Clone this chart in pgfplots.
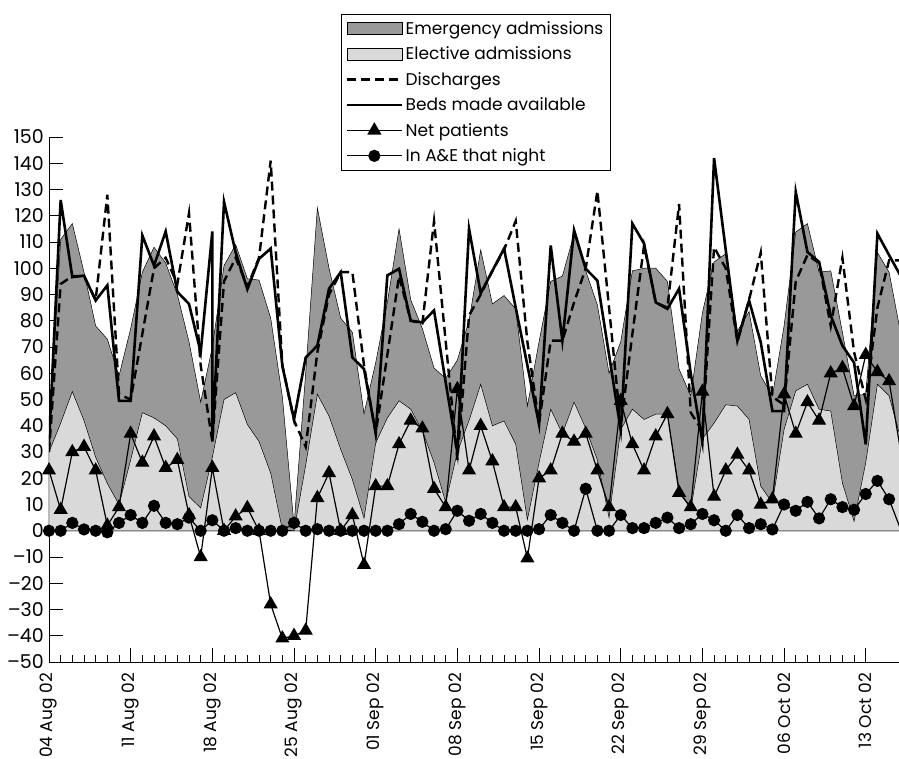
\documentclass[border=0pt]{standalone}
\usepackage{fontspec}
\setmainfont{Poppins}
\usepackage{pgfplots}
\usepackage{pgfplotstable}
\pgfplotsset{compat=1.18}

% day 0 = 04 Aug 02; tot = elective + emergency
\pgfplotstableread{
d elec tot dis net ae
0 30 35 30 23 0
1 41 111 94 8 0
2 53 117 97 30 3
3 42 98.5 97 32 0.5
4 28 78 88 23 0
5 18 73 128 2 -0.6
6 10 59 52 9 3
7 27 77 50 37 6
8 45 98.5 75 26 3
9 43 108 100 36 9.5
10 40 102 104 24 3
11 35 90 94 27 2.5
12 13 72 121 6 5
13 8.7 49 63 -10 0
14 28 70 34 24 4
15 50 101 95 0 0
16 52.6 109 104 5.5 1
17 40.5 96 93 8.7 0
18 34 95.5 104 0 0
19 22 81 141 -28 0
20 0.4 51 63 -41 0
21 0 2 42 -40 3
22 25 60 32 -38 0
23 52 123 68 12.5 0.6
24 43.7 100 90 22 0
25 31 81 98.5 0 0
26 19.5 75.6 98.5 6 0
27 4.8 44.6 63 -13 0
28 33.5 64 37 17 0
29 43 87 67 17 0
30 49.5 115 97 33 2.5
31 46.3 88 80 42 6.4
32 38 77 79 39 3.4
33 26 62 118 16 0
34 10.8 58 72 9 0.6
35 30 65 27 54 7.6
36 42 80 82 23 3.8
37 55.8 107 90 40 6.4
38 40 86.4 99 26.5 3
39 41.8 89.6 107 9 0
40 33 84.5 118 9 0
41 4.2 47.5 72 -10.5 0
42 26 72 41 20 0.6
43 46.3 95 72.4 23 6
44 37 97 72.4 37 3
45 49 113 87 34 0
46 39 99 100 37 16
47 27 86 129.5 23 0
48 5 60 85 9 0
49 38.6 72 40 49.5 6
50 46.3 99 75 33 1
51 42.4 100 108.7 23 1
52 44.4 100 87 36 3
53 44.4 95 85 44.5 5
54 16 61.6 124.5 14.5 1
55 8 51.4 45 9 2.5
56 35 83 38 53 6.4
57 41 102.4 108 13 4
58 48 105.5 100 23 0
59 47.5 76 72 29 6
60 42.4 83.5 88 23 1
61 17 59 106 10 2.5
62 10.6 51.4 51 12 0.5
63 38.6 78 48 52 10
64 53.3 113.8 95 37 7.6
65 55.8 117 105 49 11
66 46.3 98.5 102 42 4.7
67 45.6 99 78 60 12
68 18.2 75.6 104 62 9
69 3.6 51.4 68 47.5 8
70 26 52 50 67 14
71 55.8 106 85 60.5 19
72 51.4 98.5 103 57 12
73 35 75 103 30 0.4
}\daily

% beds made available (day 14 has two values)
\pgfplotstableread{
d beds
0 33.5
1 126
2 96.6
3 97.2
4 87.7
5 93.5
6 49.5
7 49.5
8 112.5
9 101
10 114
11 91
12 86.4
13 68
14 114
14 34
15 125.3
16 106
17 92
18 103.6
19 107.5
20 62.8
21 42.4
22 66
23 70.5
24 92.2
25 98.5
26 66
27 61.6
28 37.3
29 97.3
30 99.8
31 80
32 79.4
33 83.9
34 56.5
35 29.7
36 115
37 90.5
38 99
39 107.5
40 85
41 63
42 40.5
43 108.7
44 72.4
45 114.5
46 99.8
47 95.3
48 67
49 38.3
50 117
51 109.4
52 87
53 84.5
54 92.2
55 60
56 34
57 142
58 107
59 72.4
60 87.7
61 71.8
62 45.6
63 45.6
64 129.1
65 106.2
66 102.4
67 82
68 70.5
69 64
70 32.9
71 113.2
72 105
73 97
}\beds

\newcommand\lbl{\fontsize{17pt}{20pt}\selectfont}
\newcommand\ylbl{\fontsize{19pt}{22pt}\selectfont}
\definecolor{emerg}{gray}{0.6}
\definecolor{elect}{gray}{0.85}

\pgfplotsset{
    arealeg/.style={legend image code/.code={\draw[##1] (0pt,-6pt) rectangle (55pt,6pt);}},
    lineleg/.style={legend image code/.code={\draw[##1] (0pt,0pt) -- (55pt,0pt);}},
    markleg/.style={legend image code/.code={\draw[mark repeat=2,mark phase=2,##1] plot coordinates {(0pt,0pt) (27pt,0pt) (55pt,0pt)};}},
}

\begin{document}
\begin{tikzpicture}
\begin{axis}[
    name=ax,
    scale only axis,
    width=850pt, height=525pt,
    xmin=0, xmax=72.85,
    ymin=-50, ymax=150,
    axis lines*=left,
    axis line style={line width=0.9pt},
    tick align=inside,
    tick style={black, line width=0.9pt},
    major tick length=14pt,
    minor tick length=7pt,
    xtick={0,7,...,70},
    minor x tick num=6,
    xticklabels={04 Aug 02,11 Aug 02,18 Aug 02,25 Aug 02,01 Sep 02,08 Sep 02,15 Sep 02,22 Sep 02,29 Sep 02,06 Oct 02,13 Oct 02},
    xticklabel style={rotate=90, anchor=east, inner sep=0pt, font=\lbl},
    xticklabel shift=11pt,
    ytick={-50,-40,...,150},
    yticklabels={–50,–40,–30,–20,–10,0,10,20,30,40,50,60,70,80,90,100,110,120,130,140,150},
    yticklabel style={anchor=east, inner sep=0pt, font=\ylbl},
    yticklabel shift=5pt,
    clip mode=individual,
    legend style={at={(0.502,1.234)}, anchor=north, draw=black, line width=0.6pt,
        font=\lbl, inner xsep=5pt, inner ysep=5pt, row sep=7pt,
        cells={anchor=west}},
    legend cell align=left,
]
\addplot[fill=emerg, draw=black, line width=0.5pt, arealeg]
    table[x=d, y=tot] {\daily} \closedcycle;
\addlegendentry{Emergency admissions}
\addplot[fill=elect, draw=black, line width=0.5pt, arealeg]
    table[x=d, y=elec] {\daily} \closedcycle;
\addlegendentry{Elective admissions}
\addplot[black, line width=2.4pt, dash pattern=on 9pt off 5pt, lineleg]
    table[x=d, y=dis] {\daily};
\addlegendentry{Discharges}
\addplot[black, line width=2.6pt, line join=miter, lineleg]
    table[x=d, y=beds] {\beds};
\addlegendentry{Beds made available}
\addplot[black, line width=1.2pt, mark=triangle*, mark size=7pt,
    mark options={solid}, markleg]
    table[x=d, y=net] {\daily};
\addlegendentry{Net patients}
\addplot[black, line width=1.2pt, mark=*, mark size=5.5pt, markleg]
    table[x=d, y=ae] {\daily};
\addlegendentry{In A\&E that night}
\end{axis}
\pgfresetboundingbox
\path ([shift={(-49pt,-96pt)}]ax.south west) rectangle ([shift={(0pt,137pt)}]ax.north east);
\end{tikzpicture}
\end{document}
